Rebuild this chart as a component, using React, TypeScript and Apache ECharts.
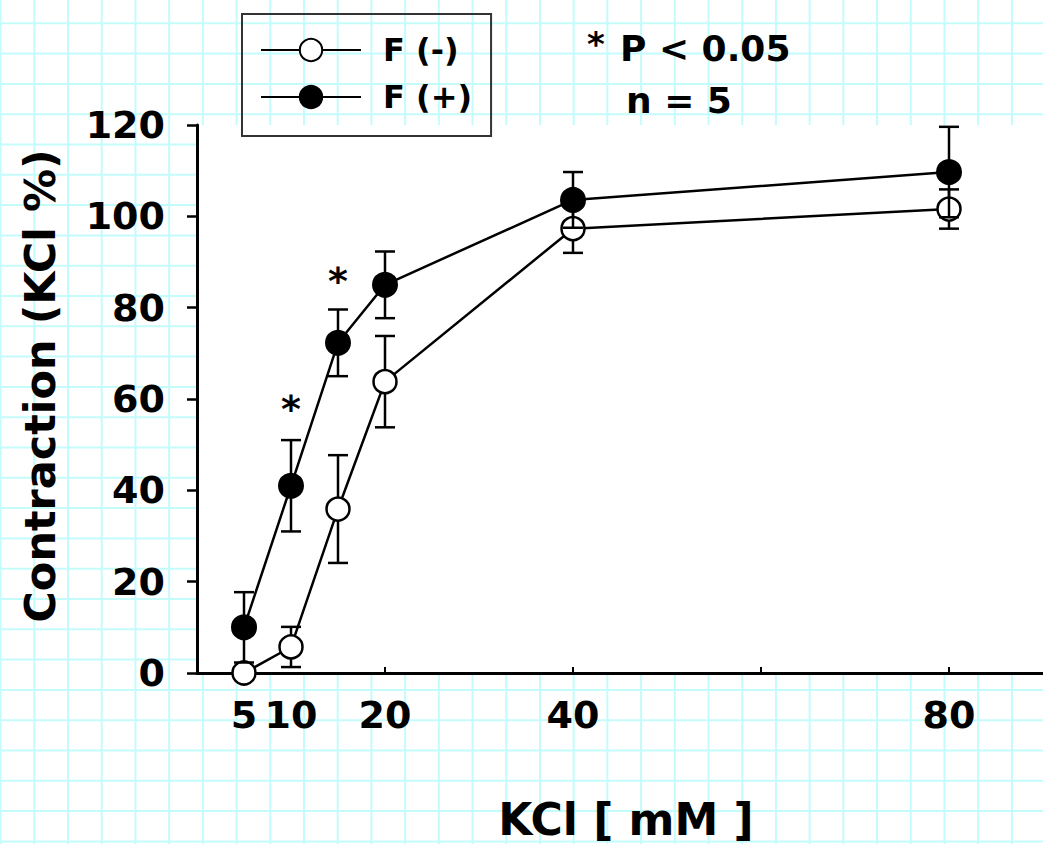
import React, { useEffect, useRef } from "react";
import * as echarts from "echarts";

// ---- data ----
const kclConc = [5, 10, 15, 20, 40, 80];
const fMinusMean = [0, 5.7, 35.9, 63.8, 97.3, 101.6];
const fMinusSem = [0, 4.4, 11.8, 10.0, 5.3, 4.3];
const fPlusMean = [10.0, 41.0, 72.3, 85.0, 103.6, 109.7];
const fPlusSem = [7.7, 10.0, 7.3, 7.3, 6.1, 9.9];
const seriesNames = ["F (-)", "F (+)"];
const sigConc = [10, 15];
const sigLevel = [59, 87];
const xLabelValues = [5, 10, 20, 40, 80];
const xTickValues = [20, 40, 60, 80];
const yMin = 0;
const yMax = 120;
const yStep = 20;
const xMin = 0;
const xMax = 90;
const noteLines = ["P < 0.05", "n = 5"];

const FONT = '"DejaVu Sans", "Liberation Sans", sans-serif';
const LW = 2.5;

function errorData(mean: number[], sem: number[]) {
  return kclConc.map((x, i) => [x, mean[i] - sem[i], mean[i] + sem[i]]);
}

function errRender(params: any, api: any) {
  const x = api.value(0);
  const lo = api.value(1);
  const hi = api.value(2);
  if (hi - lo <= 0) return { type: "group", children: [] };
  const pLo = api.coord([x, lo]);
  const pHi = api.coord([x, hi]);
  const hw = 10;
  const style = { stroke: "#000", lineWidth: LW, fill: "none" };
  return {
    type: "group",
    children: [
      { type: "line", shape: { x1: pLo[0], y1: pLo[1], x2: pHi[0], y2: pHi[1] }, style },
      { type: "line", shape: { x1: pHi[0] - hw, y1: pHi[1], x2: pHi[0] + hw, y2: pHi[1] }, style },
      { type: "line", shape: { x1: pLo[0] - hw, y1: pLo[1], x2: pLo[0] + hw, y2: pLo[1] }, style },
    ],
  };
}

function paperGrid(width: number, height: number) {
  const els: any[] = [];
  const lineStyle = { stroke: "#c4fbfb", lineWidth: 2 };
  for (let x = 0.6; x <= width; x += 33.71) {
    els.push({ type: "line", z: -10, silent: true, shape: { x1: x, y1: 0, x2: x, y2: height }, style: lineStyle });
  }
  for (let y = 23.3; y <= height; y += 30.3) {
    els.push({ type: "line", z: -10, silent: true, shape: { x1: 0, y1: y, x2: width, y2: y }, style: lineStyle });
  }
  // white plotting area
  els.push({ type: "rect", z: -9, silent: true, shape: { x: 197, y: 125, width: width - 197, height: 548 }, style: { fill: "#ffffff" } });
  return els;
}

export default function App() {
  const ref = useRef<HTMLDivElement>(null);

  useEffect(() => {
    if (!ref.current) return;
    const chart = echarts.init(ref.current, undefined, { renderer: "svg" });
    const W = 1043;
    const H = 844;

    const option: any = {
      animation: false,
      backgroundColor: "#ffffff",
      grid: { left: 197, right: 0, top: 125, bottom: 171, containLabel: false, outerBoundsMode: "none" },
      legend: {
        data: seriesNames,
        orient: "vertical",
        left: 242,
        top: 14,
        padding: [20, 19, 23, 18],
        itemGap: 15,
        itemWidth: 100,
        itemHeight: 28,
        itemTextGap: 5,
        borderColor: "#333",
        borderWidth: 2,
        borderRadius: 0,
        backgroundColor: "transparent",
        selectedMode: false,
        lineStyle: { width: 2, color: "#000" },
        textStyle: { fontFamily: FONT, fontWeight: "bold", fontSize: 32, color: "#000", padding: [0, 0, 0, 17] },
      },
      xAxis: {
        type: "value",
        min: xMin,
        max: xMax,
        name: "KCl [ mM ]",
        nameLocation: "middle",
        nameGap: 124,
        nameTextStyle: { fontFamily: FONT, fontWeight: "bold", fontSize: 44, color: "#000", padding: [0, 0, 0, 12] },
        axisLine: { show: true, onZero: false, lineStyle: { color: "#000", width: 3 } },
        axisTick: { show: true, inside: true, length: 6, lineStyle: { color: "#000", width: 2 }, customValues: xTickValues },
        axisLabel: {
          show: true,
          customValues: xLabelValues,
          margin: 23,
          fontFamily: FONT,
          fontWeight: "bold",
          fontSize: 38,
          color: "#000",
        },
        splitLine: { show: false },
      },
      yAxis: {
        type: "value",
        min: yMin,
        max: yMax,
        interval: yStep,
        name: "Contraction (KCl %)",
        nameLocation: "middle",
        nameRotate: 90,
        nameGap: 136,
        nameTextStyle: { fontFamily: FONT, fontWeight: "bold", fontSize: 43, color: "#000", padding: [0, 0, 0, 26] },
        axisLine: { show: true, lineStyle: { color: "#000", width: 3 } },
        axisTick: { show: true, inside: false, length: 10, lineStyle: { color: "#000", width: 2.5 } },
        axisLabel: { margin: 32, fontFamily: FONT, fontWeight: "bold", fontSize: 38, color: "#000" },
        splitLine: { show: false },
      },
      graphic: [
        ...paperGrid(W, H),
        {
          type: "text",
          z: 10,
          x: 596,
          y: 44,
          style: { text: "*", font: `bold 34px ${FONT}`, fill: "#000", textAlign: "center", textVerticalAlign: "middle" },
        },
        {
          type: "text",
          z: 10,
          x: 620,
          y: 48,
          style: { text: noteLines[0], font: `bold 36px ${FONT}`, fill: "#000", textAlign: "left", textVerticalAlign: "middle" },
        },
        {
          type: "text",
          z: 10,
          x: 626,
          y: 100,
          style: { text: noteLines[1], font: `bold 36px ${FONT}`, fill: "#000", textAlign: "left", textVerticalAlign: "middle" },
        },
      ],
      series: [
        {
          type: "custom",
          name: "F (-) SEM",
          z: 1,
          renderItem: errRender,
          encode: { x: 0, y: [1, 2] },
          data: errorData(fMinusMean, fMinusSem),
          silent: true,
        },
        {
          type: "line",
          name: seriesNames[0],
          z: 2,
          data: kclConc.map((x, i) => [x, fMinusMean[i]]),
          symbol: "circle",
          symbolSize: 23,
          lineStyle: { color: "#000", width: LW },
          itemStyle: { color: "#ffffff", borderColor: "#000", borderWidth: 2.5 },
          silent: true,
        },
        {
          type: "custom",
          name: "F (+) SEM",
          z: 3,
          renderItem: errRender,
          encode: { x: 0, y: [1, 2] },
          data: errorData(fPlusMean, fPlusSem),
          silent: true,
        },
        {
          type: "line",
          name: seriesNames[1],
          z: 4,
          data: kclConc.map((x, i) => [x, fPlusMean[i]]),
          symbol: "circle",
          symbolSize: 24,
          lineStyle: { color: "#000", width: LW },
          itemStyle: { color: "#000", borderColor: "#000", borderWidth: 2 },
          silent: true,
        },
        {
          type: "scatter",
          name: "significance",
          z: 5,
          symbolSize: 0,
          itemStyle: { color: "#000", opacity: 1 },
          data: sigConc.map((x, i) => [x, sigLevel[i]]),
          label: {
            show: true,
            position: "inside",
            offset: [0, 5],
            formatter: "*",
            fontFamily: FONT,
            fontWeight: "bold",
            fontSize: 38,
            color: "#000",
            opacity: 1,
            textBorderWidth: 0,
            textBorderColor: "transparent",
          },
          silent: true,
        },
      ],
    };

    chart.setOption(option);
    return () => chart.dispose();
  }, []);

  return (
    <div
      ref={ref}
      style={{ position: "absolute", left: 0, top: 0, width: 1043, height: 844 }}
    />
  );
}
